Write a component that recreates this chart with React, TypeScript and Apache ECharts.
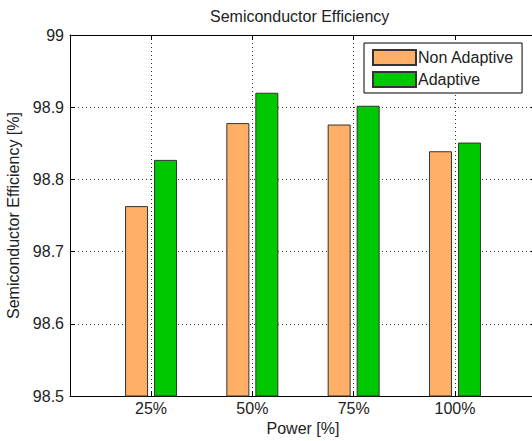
import React, { useEffect, useRef } from "react";
import * as echarts from "echarts";

const categories = ["25%", "50%", "75%", "100%"];
const categoryPositions = [1, 2, 3, 4];
const nonAdaptive = [98.763, 98.878, 98.876, 98.839];
const adaptive = [98.827, 98.92, 98.902, 98.851];
const seriesNames = ["Non Adaptive", "Adaptive"];
const titleText = "Semiconductor Efficiency";
const xName = "Power [%]";
const yName = "Semiconductor Efficiency [%]";

const FONT = "'Liberation Sans', Arial, Helvetica, sans-serif";
const TXT = "#222";

export default function App() {
  const ref = useRef<HTMLDivElement>(null);
  useEffect(() => {
    if (!ref.current) return;
    const chart = echarts.init(ref.current, undefined, { renderer: "svg" });
    const xLabel = (v: number) => {
      const i = categoryPositions.indexOf(Math.round(v * 1000) / 1000);
      return i >= 0 ? categories[i] : "";
    };
    const grid = { left: 70, top: 35, width: 466, height: 361, containLabel: false, outerBoundsMode: "none" };
    const dotted = { type: [1, 3] as any, color: "#333", width: 1 };
    chart.setOption({
      animation: false,
      backgroundColor: "#fff",
      textStyle: { fontFamily: FONT },
      title: {
        text: titleText,
        left: 210,
        top: 8,
        padding: 0,
        textStyle: { fontSize: 16, fontWeight: "normal", color: TXT, fontFamily: FONT },
      },
      legend: {
        orient: "vertical",
        left: 364,
        top: 43,
        padding: [6, 8, 5, 8],
        itemWidth: 43,
        itemHeight: 15,
        itemGap: 5,
        borderColor: "#000",
        borderWidth: 1,
        backgroundColor: "#fff",
        icon: "rect",
        textStyle: { fontSize: 16, color: TXT, fontFamily: FONT, padding: [0, 0, 0, -3] },
        data: seriesNames,
      },
      grid,
      xAxis: [
        {
          type: "value",
          min: 0.2,
          max: 4.8,
          splitNumber: 5,
          name: xName,
          nameLocation: "middle",
          nameGap: 20,
          nameTextStyle: { fontSize: 16, color: TXT, fontFamily: FONT },
          axisLine: { show: true, onZero: false, lineStyle: { color: "#000", width: 1 } },
          axisTick: {
            show: true,
            inside: true,
            length: 5,
            lineStyle: { color: "#000" },
            customValues: categoryPositions,
          },
          axisLabel: {
            fontSize: 16,
            color: TXT,
            margin: 4,
            fontFamily: FONT,
            customValues: categoryPositions,
            formatter: xLabel,
          },
          splitLine: { show: true, lineStyle: dotted },
        },
        {
          type: "value",
          position: "top",
          min: 0.2,
          max: 4.8,
          splitNumber: 5,
          axisLine: { show: true, onZero: false, lineStyle: { color: "#000", width: 1 } },
          axisTick: {
            show: true,
            inside: true,
            length: 5,
            lineStyle: { color: "#000" },
            customValues: categoryPositions,
          },
          axisLabel: { show: false },
          splitLine: { show: false },
        },
      ],
      yAxis: [
        {
          type: "value",
          min: 98.5,
          max: 99,
          interval: 0.1,
          name: yName,
          nameLocation: "middle",
          nameGap: 46,
          nameTextStyle: { fontSize: 16, color: TXT, fontFamily: FONT },
          axisLine: { show: true, onZero: false, lineStyle: { color: "#000", width: 1 } },
          axisTick: { show: true, inside: true, length: 5, lineStyle: { color: "#000" } },
          axisLabel: {
            fontSize: 16,
            color: TXT,
            margin: 6,
            fontFamily: FONT,
            formatter: (v: number) => String(Number(v.toFixed(1))),
          },
          splitLine: { show: true, lineStyle: dotted },
        },
        {
          type: "value",
          position: "right",
          min: 98.5,
          max: 99,
          interval: 0.1,
          axisLine: { show: true, onZero: false, lineStyle: { color: "#000", width: 1 } },
          axisTick: { show: true, inside: true, length: 5, lineStyle: { color: "#000" } },
          axisLabel: { show: false },
          splitLine: { show: false },
        },
      ],
      series: [
        {
          name: seriesNames[0],
          type: "bar",
          barWidth: 23,
          barGap: "26%",
          data: categoryPositions.map((x, i) => [x, nonAdaptive[i]]),
          itemStyle: { color: "#FFB066", borderColor: "#333", borderWidth: 1 },
        },
        {
          name: seriesNames[1],
          type: "bar",
          barWidth: 23,
          barGap: "26%",
          data: categoryPositions.map((x, i) => [x, adaptive[i]]),
          itemStyle: { color: "#00C800", borderColor: "#333", borderWidth: 1 },
        },
      ],
    });
    return () => chart.dispose();
  }, []);
  return (
    <div
      ref={ref}
      style={{ position: "fixed", left: 0, top: 0, width: 532, height: 441 }}
    />
  );
}
